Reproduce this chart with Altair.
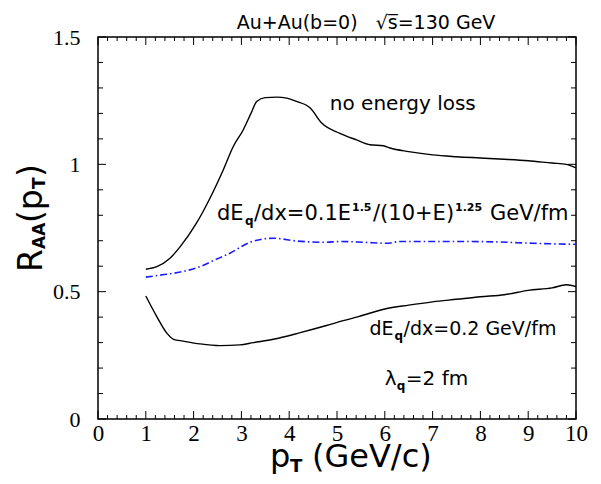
import altair as alt
import numpy as np
import pandas as pd

# ---- data ----
noloss_x = [1.0, 1.23, 1.5, 1.72, 2.06, 2.35, 2.62, 2.83, 3.04, 3.2, 3.32, 3.5, 3.74, 3.95,
            4.15, 4.44, 4.68, 5.06, 5.41, 5.69, 5.97, 6.11, 6.5, 7.0, 7.5, 8.0, 8.5, 9.0, 9.5, 9.8, 10.0]
noloss_y = [0.588, 0.598, 0.63, 0.677, 0.769, 0.87, 0.978, 1.07, 1.136, 1.2, 1.247, 1.262, 1.264, 1.26,
            1.247, 1.221, 1.162, 1.122, 1.096, 1.077, 1.073, 1.064, 1.05, 1.037, 1.03, 1.025, 1.02, 1.014, 1.005, 1.0, 0.986]

mid_x = [1.0, 1.3, 1.72, 2.13, 2.45, 2.76, 3.18, 3.67, 4.15, 4.71, 5.1, 5.55, 6.04, 6.32,
         7.0, 7.71, 8.4, 9.1, 9.5, 10.0]
mid_y = [0.557, 0.565, 0.577, 0.598, 0.625, 0.651, 0.694, 0.710, 0.699, 0.694, 0.697, 0.694, 0.690, 0.697,
         0.697, 0.697, 0.695, 0.690, 0.688, 0.686]

low_x = [1.0, 1.23, 1.44, 1.58, 1.78, 2.13, 2.55, 2.97, 3.25, 3.67, 4.23, 4.78, 5.13, 5.45,
         6.0, 6.5, 7.0, 7.5, 8.0, 8.5, 9.0, 9.5, 9.8, 10.0]
low_y = [0.483, 0.402, 0.337, 0.313, 0.306, 0.295, 0.288, 0.291, 0.300, 0.313, 0.339, 0.367, 0.386, 0.402,
         0.432, 0.447, 0.460, 0.470, 0.480, 0.488, 0.505, 0.515, 0.527, 0.520]

x_labels = [0, 1, 2, 3, 4, 5, 6, 7, 8, 9, 10]
y_labels = [0, 0.5, 1, 1.5]

W, H = 478, 382
SANS = "DejaVu Sans"
SERIF = "Liberation Serif"
NB = "\u00a0"

xs = alt.Scale(domain=[0, 10], nice=False, zero=False)
ys = alt.Scale(domain=[0, 1.5], nice=False, zero=False)

def curve(xv, yv):
    return pd.DataFrame({"x": xv, "y": yv})

base_x = alt.X("x:Q", scale=xs,
               axis=alt.Axis(values=x_labels, title=None, tickSize=0, domain=False, grid=False,
                             labelFont=SERIF, labelFontSize=23, labelColor="black",
                             labelPadding=3, labelFlush=False))
base_y = alt.Y("y:Q", scale=ys,
               axis=alt.Axis(values=y_labels, title=None, tickSize=0, domain=False, grid=False,
                             labelFont=SERIF, labelFontSize=22, labelColor="black",
                             labelPadding=18, labelExpr="'' + datum.value"))

l_noloss = alt.Chart(curve(noloss_x, noloss_y)).mark_line(
    color="black", strokeWidth=1.4, interpolate="monotone").encode(x=base_x, y=base_y)
l_low = alt.Chart(curve(low_x, low_y)).mark_line(
    color="black", strokeWidth=1.4, interpolate="monotone").encode(x="x:Q", y="y:Q")
l_mid = alt.Chart(curve(mid_x, mid_y)).mark_line(
    color="#1a1aff", strokeWidth=1.6, strokeDash=[7, 3, 1.5, 3], interpolate="monotone").encode(x="x:Q", y="y:Q")

# ---- inward ticks on all four sides ----
xmaj = pd.DataFrame({"v": np.arange(0, 11)})
xmin = pd.DataFrame({"v": [v for v in np.round(np.arange(0, 10.01, 0.2), 2) if abs(v - round(v)) > 1e-6]})
ymaj = pd.DataFrame({"v": [0.0, 0.5, 1.0, 1.5]})
ymin = pd.DataFrame({"v": [v for v in np.round(np.arange(0, 1.501, 0.1), 2) if abs(v * 2 - round(v * 2)) > 1e-6]})

def xticks(df, L):
    b = alt.Chart(df).mark_rule(color="black", strokeWidth=1)
    return (b.encode(x="v:Q", y=alt.value(H), y2=alt.value(H - L)) +
            b.encode(x="v:Q", y=alt.value(0), y2=alt.value(L)))

def yticks(df, L):
    b = alt.Chart(df).mark_rule(color="black", strokeWidth=1)
    return (b.encode(y="v:Q", x=alt.value(0), x2=alt.value(L)) +
            b.encode(y="v:Q", x=alt.value(W), x2=alt.value(W - L)))

ticks = xticks(xmaj, 8) + xticks(xmin, 4) + yticks(ymaj, 8) + yticks(ymin, 5)

# ---- text helpers ----
def txt_data(s, x, y, dx=0, dy=0, size=20, weight="normal"):
    return alt.Chart(pd.DataFrame({"x": [x], "y": [y]})).mark_text(
        text=s, font=SANS, fontSize=size, fontWeight=weight, align="left",
        baseline="alphabetic", dx=dx, dy=dy, color="black").encode(x="x:Q", y="y:Q")

def txt_px(s, px, py, size=18, weight="normal", angle=0, align="left"):
    kw = dict(text=s, font=SANS, fontSize=size, fontWeight=weight, align=align,
              baseline="alphabetic", color="black")
    if angle:
        kw["angle"] = angle
    return alt.Chart(pd.DataFrame({"a": [0]})).mark_text(**kw).encode(
        x=alt.value(px), y=alt.value(py))

ann = []
# no energy loss
ann.append(txt_data("no energy loss", 4.85, 1.215, size=20))
# formula line
fx, fy = 2.49, 0.78
ann += [txt_data("dE", fx, fy, 0, 0, 21),
        txt_data("q", fx, fy, 28, 5, 12, "bold"),
        txt_data("/dx=0.1E", fx, fy, 37, 0, 21),
        txt_data("1.5", fx, fy, 135, -9, 11, "bold"),
        txt_data("/(10+E)", fx, fy, 156, 0, 21),
        txt_data("1.25", fx, fy, 238, -9, 11, "bold"),
        txt_data("GeV/fm", fx, fy, 273, 0, 21)]
# dE/dx=0.2
gx, gy = 5.68, 0.33
ann += [txt_data("dE", gx, gy, 0, 0, 19),
        txt_data("q", gx, gy, 25, 5, 12, "bold"),
        txt_data("/dx=0.2 GeV/fm", gx, gy, 34, 0, 19)]
# lambda
hx, hy = 6.0, 0.134
ann += [txt_data("λ", hx, hy, 0, 0, 20),
        txt_data("q", hx, hy, 12, 5, 12, "bold"),
        txt_data("=2 fm", hx, hy, 21, 0, 20)]

# main title
ann.append(txt_px("Au+Au(b=0)" + NB * 3 + "√s\u0305=130 GeV", 268, -8, size=19, align="center"))

# x-axis title p_T (GeV/c)
ann += [txt_px("p", 172, 430, 32),
        txt_px("T", 192, 435, 18, "bold"),
        txt_px("(GeV/c)", 214, 430, 32)]

# y-axis title R_AA(p_T)
ann += [txt_px("R", -56, 235, 33, angle=270),
        txt_px("AA", -53, 212, 17, "bold", angle=270),
        txt_px("(p", -56, 186, 33, angle=270),
        txt_px("T", -53, 152, 17, "bold", angle=270),
        txt_px(")", -56, 140, 33, angle=270)]

chart = alt.layer(l_noloss, l_low, l_mid, ticks, *ann).properties(
    width=W, height=H,
    autosize=alt.AutoSizeParams(type="none"),
    padding={"left": 90, "top": 29, "right": 17, "bottom": 57},
    background="white",
).configure_view(stroke="black", strokeWidth=1.5)

chart.save("out.html", embed_options={"renderer": "svg", "actions": False})
